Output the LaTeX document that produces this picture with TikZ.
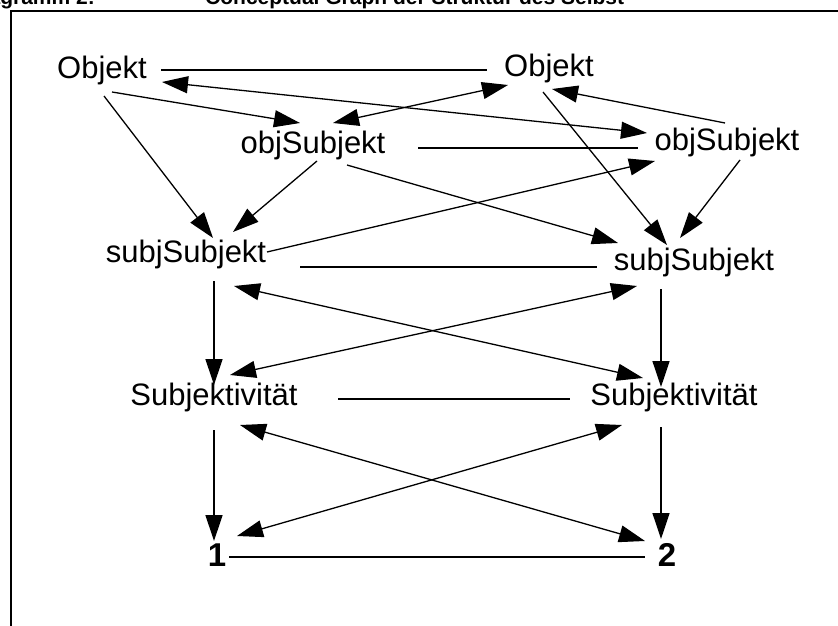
\documentclass[tikz,border=0pt]{standalone}
\usepackage{fontspec}
\setmainfont{Liberation Sans}
\usetikzlibrary{arrows.meta}
\tikzset{
  lbl/.style={anchor=base, inner sep=0pt, font=\fontsize{31}{31}\selectfont},
  numlbl/.style={anchor=base, inner sep=0pt, font=\bfseries\fontsize{33}{33}\selectfont},
  hdr/.style={inner sep=0pt, font=\bfseries\fontsize{21}{21}\selectfont},
  conn/.style={line width=1.3pt},
  arr/.style={conn, -{Triangle[length=26pt, width=17pt]}},
  darr/.style={conn, {Triangle[length=26pt, width=17pt]}-{Triangle[length=26pt, width=17pt]}},
  frame/.style={line width=2.7pt}
}
\begin{document}
\begin{tikzpicture}[x=1pt, y=-1pt]
\useasboundingbox (0,0) rectangle (838,626);
% header (cut at top)
\node[hdr, anchor=base east] (h1) at (95,5) {Diagramm 2:};
\node[hdr, anchor=base west] (h2) at (205,5) {Conceptual Graph der Struktur des Selbst};
% frame
\draw[frame] (11,640) -- (11,11) -- (850,11);
% nodes
\node[lbl] (oL)  at (102,78)  {Objekt};
\node[lbl] (oR)  at (549,77)  {Objekt};
\node[lbl] (osL) at (313,153) {objSubjekt};
\node[lbl] (osR) at (727,150) {objSubjekt};
\node[lbl] (ssL) at (186,262) {subjSubjekt};
\node[lbl] (ssR) at (694,270) {subjSubjekt};
\node[lbl] (sL)  at (214,405) {Subjektivität};
\node[lbl] (sR)  at (674,405) {Subjektivität};
\node[numlbl] (n1) at (217,566) {1};
\node[numlbl] (n2) at (667,566) {2};
% undirected horizontal links
\draw[conn] ([shift={(59,-8)}]oL.base) -- ([shift={(-62,-7)}]oR.base);
\draw[conn] ([shift={(105,-5)}]osL.base) -- ([shift={(-89,-2)}]osR.base);
\draw[conn] ([shift={(114,5)}]ssL.base) -- ([shift={(-97,-3)}]ssR.base);
\draw[conn] ([shift={(124,-6)}]sL.base) -- ([shift={(-104,-6)}]sR.base);
\draw[conn] ([shift={(12,-9)}]n1.base) -- ([shift={(-22,-9)}]n2.base);
% arrows
\draw[arr]  ([shift={(10,14)}]oL.base) -- ([shift={(-13,-30)}]osL.base);
\draw[darr] ([shift={(60,4)}]oL.base) -- ([shift={(-80,-17)}]osR.base);
\draw[darr] ([shift={(20,-30)}]osL.base) -- ([shift={(-41,8)}]oR.base);
\draw[arr]  ([shift={(-2,-27)}]osR.base) -- ([shift={(3,12)}]oR.base);
\draw[arr]  ([shift={(-6,15)}]oR.base) -- ([shift={(-27,-25)}]ssR.base);
\draw[arr]  ([shift={(13,10)}]osR.base) -- ([shift={(-14,-32)}]ssR.base);
\draw[arr]  ([shift={(34,12)}]osL.base) -- ([shift={(-76,-27)}]ssR.base);
\draw[arr]  ([shift={(81,-10)}]ssL.base) -- ([shift={(-72,11)}]osR.base);
\draw[arr]  ([shift={(2,18)}]oL.base) -- ([shift={(27,-24)}]ssL.base);
\draw[arr]  ([shift={(4,8)}]osL.base) -- ([shift={(47,-30)}]ssL.base);
\draw[arr]  ([shift={(28,19)}]ssL.base) -- ([shift={(0,-20)}]sL.base);
\draw[arr]  ([shift={(-33,19)}]ssR.base) -- ([shift={(-13,-18)}]sR.base);
\draw[darr] ([shift={(48,24)}]ssL.base) -- ([shift={(-31,-27)}]sR.base);
\draw[darr] ([shift={(16,-30)}]sL.base) -- ([shift={(-57,16)}]ssR.base);
\draw[arr]  ([shift={(0,25)}]sL.base) -- ([shift={(-3,-25)}]n1.base);
\draw[arr]  ([shift={(-13,22)}]sR.base) -- ([shift={(-6,-27)}]n2.base);
\draw[darr] ([shift={(26,20)}]sL.base) -- ([shift={(-22,-25)}]n2.base);
\draw[darr] ([shift={(-52,20)}]sR.base) -- ([shift={(20,-30)}]n1.base);
\end{tikzpicture}
\end{document}
